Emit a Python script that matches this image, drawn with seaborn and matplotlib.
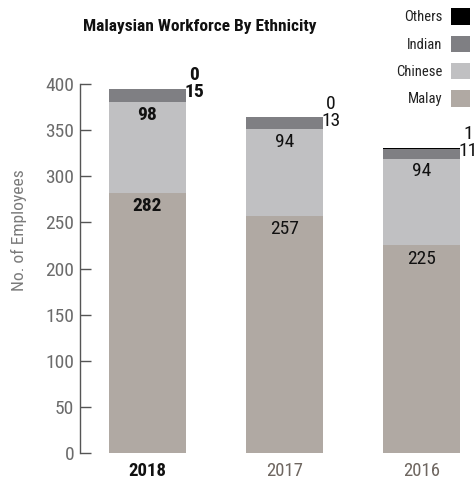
import matplotlib
matplotlib.use("Agg")
import matplotlib.pyplot as plt
from matplotlib import font_manager
from matplotlib.patches import Patch
import seaborn as sns
import pandas as pd
import numpy as np

years = ["2018", "2017", "2016"]
malay = [282, 257, 225]
chinese = [98, 94, 94]
indian = [15, 13, 11]
others = [0, 0, 1]
ethnicities = ["Malay", "Chinese", "Indian", "Others"]
colors = {"Malay": "#b0a9a3", "Chinese": "#c0c0c2", "Indian": "#7f7f83", "Others": "#000000"}

sns.set_theme(style="white")
names = {f.name for f in font_manager.fontManager.ttflist}
fam = "DejaVu Sans"
for cand in ["Roboto Condensed", "Liberation Sans Narrow", "Arial Narrow", "Archivo Narrow",
             "PT Sans Narrow", "Open Sans Condensed", "Encode Sans Condensed", "Fira Sans Condensed"]:
    if cand in names:
        fam = cand
        break
plt.rcParams["font.family"] = [fam, "DejaVu Sans"]

df = pd.DataFrame({"Year": years, "Malay": malay, "Chinese": chinese,
                   "Indian": indian, "Others": others})

fig = plt.figure(figsize=(4.75, 4.8), dpi=100)
ax = fig.add_axes([0.168, 0.056, 0.832, 0.769])

bottom = np.zeros(len(years))
for eth in ethnicities:
    sns.barplot(data=df, x="Year", y=eth, color=colors[eth], bottom=bottom,
                width=0.56, ax=ax, saturation=1, edgecolor="none", linewidth=0)
    bottom = bottom + df[eth].values

ax.set_ylim(0, 400)
ax.set_xlim(-0.493, 2.39)
ax.set_yticks(range(0, 401, 50))
ax.tick_params(axis="y", direction="in", length=8, width=1, color="#555555",
               labelsize=14, labelcolor="#6b6b6b", pad=4, left=True)
ax.tick_params(axis="x", length=0, labelsize=13.5, pad=6.5)
for s in ["top", "right", "bottom"]:
    ax.spines[s].set_visible(False)
ax.spines["left"].set_color("#555555")
ax.spines["left"].set_linewidth(1)
ax.set_xlabel("")
ax.set_ylabel("No. of Employees", fontsize=12.6, color="#7a7a7a")
ax.yaxis.set_label_coords(-0.134, 0.604)

for i, lab in enumerate(ax.get_xticklabels()):
    if i == 0:
        lab.set_fontweight("bold"); lab.set_color("#111111")
    else:
        lab.set_color("#6e6660")

w = 0.56
fsz = 14
for i in range(len(years)):
    bold = "bold" if i == 0 else "normal"
    m, c, ind, o = malay[i], chinese[i], indian[i], others[i]
    ax.annotate(str(m), (i, m), xytext=(0, -9.5), textcoords="offset points",
                ha="center", va="center", fontsize=fsz, fontweight=bold, color="#111111")
    ax.annotate(str(c), (i, m + c), xytext=(0, -9), textcoords="offset points",
                ha="center", va="center", fontsize=fsz, fontweight=bold, color="#111111")
    top = m + c + ind + o
    ax.annotate(str(ind), (i + w / 2, top), xytext=(6, -2.5), textcoords="offset points",
                ha="center", va="center", fontsize=fsz, fontweight=bold, color="#111111",
                annotation_clip=False)
    ax.annotate(str(o), (i + w / 2, top), xytext=(6, 9.5), textcoords="offset points",
                ha="center", va="center", fontsize=fsz, fontweight=bold, color="#111111",
                annotation_clip=False)

fig.text(200 / 475, 1 - 27 / 480, "Malaysian Workforce By Ethnicity", ha="center",
         va="center", fontsize=12.5, fontweight="bold", color="#111111")

handles = [Patch(facecolor=colors[e], edgecolor="none") for e in ethnicities[::-1]]
fig.legend(handles, ethnicities[::-1], loc="upper right", bbox_to_anchor=(1.012, 1.004),
           frameon=False, markerfirst=False, fontsize=10.5, handlelength=1.35,
           handleheight=1.35, labelspacing=0.75, handletextpad=0.6,
           borderaxespad=0.3, labelcolor="#222222")

fig.savefig("out.png", dpi=100)
